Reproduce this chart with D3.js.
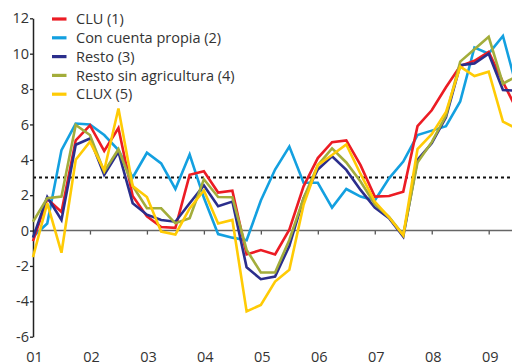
<!DOCTYPE html>
<html>
<head>
<meta charset="utf-8">
<script src="https://cdn.jsdelivr.net/npm/d3@7"></script>
<style>
  html, body { margin: 0; padding: 0; background: #fff; }
  svg { display: block; }
  text { font-family: "Open Sans", "Noto Sans", sans-serif; fill: #333; }
</style>
</head>
<body>
<svg id="chart" width="512" height="364"></svg>
<script>
// Quarterly series, first quarter 2001 onwards
const seriesNames = ["CLU (1)", "Con cuenta propia (2)", "Resto (3)", "Resto sin agricultura (4)", "CLUX (5)"];
const seriesColors = ["#ec1c24", "#13a0e0", "#2b2e8c", "#a3ad3b", "#ffcb05"];

const clu = [-0.6, 1.8, 1.05, 5.1, 5.95, 4.5, 5.8, 1.95, 0.8, 0.2, 0.15, 3.15, 3.35, 2.15, 2.25,
  -1.35, -1.1, -1.35, 0.05, 2.5, 4.1, 5.0, 5.1, 3.7, 1.92, 1.95, 2.2, 5.9, 6.8, 8.1, 9.3, 9.6, 10.1, 8.4, 6.8];
const cuentaPropia = [-0.35, 0.4, 4.55, 6.05, 6.0, 5.4, 4.55, 3.0, 4.4, 3.8, 2.35, 4.3, 1.85, -0.2, -0.4,
  -0.55, 1.7, 3.45, 4.75, 2.7, 2.7, 1.3, 2.35, 1.92, 1.7, 2.95, 3.9, 5.4, 5.65, 5.9, 7.3, 10.35, 10.0, 11.0, 8.0];
const resto = [-0.4, 1.9, 0.6, 4.85, 5.2, 3.15, 4.45, 1.55, 0.9, 0.6, 0.5, 1.54, 2.55, 1.38, 1.64,
  -2.07, -2.75, -2.6, -0.87, 1.83, 3.45, 4.2, 3.43, 2.3, 1.3, 0.7, -0.35, 4.0, 4.93, 6.4, 9.35, 9.45, 10.0, 7.95, 7.9];
const restoSinAgri = [0.5, 1.83, 1.92, 5.97, 5.4, 3.33, 4.6, 2.52, 1.26, 1.26, 0.41, 0.7, 2.9, 1.9, 1.88,
  -1.09, -2.37, -2.37, -0.53, 1.83, 3.7, 4.65, 3.85, 2.77, 1.5, 0.77, -0.24, 3.85, 5.0, 6.5, 9.55, 10.25, 10.95, 8.3, 8.75];
const clux = [-1.5, 1.55, -1.25, 4.0, 5.03, 3.4, 6.9, 2.52, 1.9, -0.06, -0.22, 1.25, 2.27, 0.4, 0.6,
  -4.57, -4.2, -2.88, -2.22, 1.45, 3.7, 4.27, 4.87, 3.2, 1.64, 0.75, -0.27, 4.6, 5.45, 6.7, 9.27, 8.74, 8.98, 6.16, 5.75];

const yTicks = [12, 10, 8, 6, 4, 2, 0, -2, -4, -6];
const yearTicks = [2001, 2002, 2003, 2004, 2005, 2006, 2007, 2008, 2009];
const yearLabels = ["01", "02", "03", "04", "05", "06", "07", "08", "09"];
const refLevel = 3;

const allSeries = [cuentaPropia, clu, resto, restoSinAgri, clux];
const drawOrder = [1, 0, 2, 3, 4]; // index into seriesNames/colors for each entry of allSeries

const W = 512, H = 364;
const FS = 14.5;
const svg = d3.select("#chart");

const x = d3.scaleLinear().domain([2001, 2009]).range([33, 488.7]);
const y = d3.scaleLinear().domain([-6, 12]).range([336.7, 18.3]);
const tQ = i => 2001 + i / 4;

// dotted reference line
svg.append("line")
  .attr("x1", x(2001)).attr("x2", W)
  .attr("y1", y(refLevel)).attr("y2", y(refLevel))
  .attr("stroke", "#111").attr("stroke-width", 2)
  .attr("stroke-dasharray", "3,3");

// x axis along zero
const xAxis = svg.append("g")
  .attr("transform", `translate(0,${y(0)})`)
  .call(d3.axisBottom(x).tickValues(yearTicks).tickSize(4).tickFormat(""));
xAxis.select(".domain").remove();
xAxis.selectAll(".tick line").attr("stroke", "#555").attr("stroke-width", 1.3);
svg.append("line")
  .attr("x1", x(2001)).attr("x2", W)
  .attr("y1", y(0)).attr("y2", y(0))
  .attr("stroke", "#666").attr("stroke-width", 1.6);

// year labels along the bottom
svg.append("g").selectAll("text")
  .data(yearTicks)
  .join("text")
  .attr("x", d => x(d) + 1.5)
  .attr("y", 362)
  .attr("text-anchor", "middle")
  .attr("font-size", FS)
  .text((d, i) => yearLabels[i]);

// y axis
const yAxis = svg.append("g")
  .attr("transform", `translate(${x(2001)},0)`)
  .call(d3.axisLeft(y).tickValues(yTicks).tickSize(3).tickPadding(1).tickSizeOuter(0)
    .tickFormat(d => String(d)));
yAxis.select(".domain").attr("stroke", "#222").attr("stroke-width", 1.5);
yAxis.selectAll(".tick line").attr("stroke", "#222").attr("stroke-width", 1.3);
yAxis.selectAll(".tick text")
  .attr("font-size", FS)
  .style("font-family", '"Open Sans", "Noto Sans", sans-serif')
  .attr("fill", "#333");

// series lines
const line = d3.line().x((d, i) => x(tQ(i))).y(d => y(d));
svg.append("g").selectAll("path")
  .data(allSeries)
  .join("path")
  .attr("d", line)
  .attr("fill", "none")
  .attr("stroke", (d, k) => seriesColors[drawOrder[k]])
  .attr("stroke-width", 2.6)
  .attr("stroke-linejoin", "miter")
  .attr("stroke-miterlimit", 3);

// legend
const leg = svg.append("g").attr("transform", "translate(52,19)");
const item = leg.selectAll("g")
  .data(seriesNames)
  .join("g")
  .attr("transform", (d, i) => `translate(0,${i * 18.8})`);
item.append("line")
  .attr("x1", 0).attr("x2", 14.5)
  .attr("stroke", (d, i) => seriesColors[i])
  .attr("stroke-width", 3.2);
item.append("text")
  .attr("x", 24)
  .attr("y", 5.2)
  .attr("font-size", FS)
  .text(d => d);
</script>
</body>
</html>
